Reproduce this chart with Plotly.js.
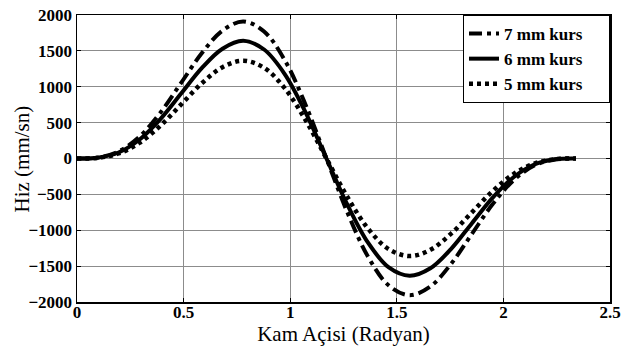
<!DOCTYPE html>
<html>
<head>
<meta charset="utf-8">
<script src="https://cdn.plot.ly/plotly-3.0.1.min.js"></script>
<style>html,body{margin:0;padding:0;background:#fff;}#chart{width:634px;height:347px;}</style>
</head>
<body>
<div id="chart"></div>
<script>
// Kam açisi (radyan)
const angle = [0, 0.0975, 0.195, 0.2925, 0.39, 0.4875, 0.585, 0.6825, 0.78, 0.8775, 0.975, 1.0725, 1.17,
  1.2675, 1.365, 1.4625, 1.56, 1.6575, 1.755, 1.8525, 1.95, 2.0475, 2.145, 2.2425, 2.34];
// Hiz (mm/sn)
const kurs7 = [0, 13, 98, 304, 635, 1050, 1467, 1783, 1910, 1770, 1368, 746, 0,
  -746, -1368, -1770, -1905, -1783, -1467, -1050, -635, -304, -98, -13, 0];
const kurs6 = [0, 11, 84, 261, 545, 901, 1259, 1530, 1640, 1519, 1174, 640, 0,
  -640, -1174, -1519, -1635, -1530, -1259, -901, -545, -261, -84, -11, 0];
const kurs5 = [0, 9, 70, 217, 453, 750, 1047, 1273, 1362, 1264, 977, 533, 0,
  -533, -977, -1264, -1360, -1273, -1047, -750, -453, -217, -70, -9, 0];
const seriesNames = ['7 mm kurs', '6 mm kurs', '5 mm kurs'];
const xTicks = [0, 0.5, 1, 1.5, 2, 2.5];
const xTickText = ['0', '0.5', '1', '1.5', '2', '2.5'];
const yTicks = [-2000, -1500, -1000, -500, 0, 500, 1000, 1500, 2000];
const xTitle = 'Kam Açisi (Radyan)';
const yTitle = 'Hiz (mm/sn)';

const serif = "'Liberation Serif', 'Times New Roman', serif";
const pad = '\u00a0\u00a0\u00a0\u00a0\u00a0';

const traces = [
  {x: angle, y: kurs7, name: seriesNames[0] + pad, mode: 'lines',
   line: {color: '#000', width: 4, dash: '13px,5px,4px,5px', shape: 'spline'}},
  {x: angle, y: kurs6, name: seriesNames[1] + pad, mode: 'lines',
   line: {color: '#000', width: 4, shape: 'spline'}},
  {x: angle, y: kurs5, name: seriesNames[2] + pad, mode: 'lines',
   line: {color: '#000', width: 4.5, dash: '4px,4px', shape: 'spline'}}
];

const layout = {
  width: 634, height: 347,
  margin: {l: 77, r: 24, t: 15, b: 45},
  paper_bgcolor: '#fff', plot_bgcolor: '#fff',
  showlegend: true,
  legend: {x: 1, y: 1, xanchor: 'right', yanchor: 'top',
    bgcolor: '#fff', bordercolor: '#000', borderwidth: 1,
    font: {family: serif, size: 17, color: '#000', weight: 'bold'},
    tracegroupgap: 0, itemwidth: 30},
  xaxis: {
    range: [0, 2.5], tickvals: xTicks, ticktext: xTickText,
    showgrid: true, gridcolor: '#8c8c8c', gridwidth: 1,
    zeroline: false, showline: true, linecolor: '#000', linewidth: 1.5, mirror: 'ticks',
    ticks: 'inside', ticklen: 4, tickcolor: '#000', ticklabelstandoff: -6,
    tickfont: {family: serif, size: 17, color: '#000', weight: 'bold'},
    title: {text: xTitle, font: {family: serif, size: 21, color: '#000'}, standoff: 0}
  },
  yaxis: {
    range: [-2000, 2000], tickvals: yTicks,
    showgrid: true, gridcolor: '#8c8c8c', gridwidth: 1,
    zeroline: false, showline: true, linecolor: '#000', linewidth: 1.5, mirror: 'ticks',
    ticks: 'inside', ticklen: 4, tickcolor: '#000',
    tickfont: {family: serif, size: 17, color: '#000', weight: 'bold'}
  },
  annotations: [
    {text: yTitle, xref: 'paper', yref: 'paper', x: -0.1032, y: 0.5,
     xanchor: 'center', yanchor: 'middle', textangle: -90, showarrow: false,
     font: {family: serif, size: 21, color: '#000'}}
  ]
};

Plotly.newPlot('chart', traces, layout, {displayModeBar: false, staticPlot: true});
</script>
</body>
</html>
